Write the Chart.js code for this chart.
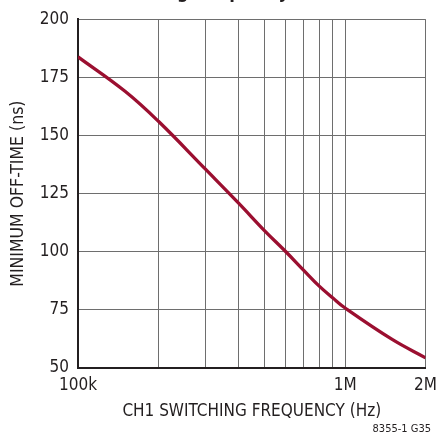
<!DOCTYPE html>
<html>
<head>
<meta charset="utf-8">
<script src="https://cdn.jsdelivr.net/npm/chart.js@4.4.0/dist/chart.umd.min.js"></script>
<style>
html,body{margin:0;padding:0;background:#fff;}
#wrap{width:444px;height:434px;position:relative;}
</style>
</head>
<body>
<div id="wrap"><canvas id="c" width="444" height="434"></canvas></div>
<script>
const frequencies = [100000, 150000, 200000, 300000, 400000, 500000, 600000, 700000, 800000, 900000, 1000000, 1500000, 2000000];
const offTimeNs = [183.8, 169, 156.1, 135.5, 120.8, 109, 100, 92, 85.2, 80.1, 75.8, 62.3, 54.4];
const xGridTicks = [100000, 200000, 300000, 400000, 500000, 600000, 700000, 800000, 900000, 1000000, 2000000];
const xTickLabels = {100000: '100k', 1000000: '1M', 2000000: '2M'};
const yTicks = [50, 75, 100, 125, 150, 175, 200];
const titleText = 'Minimum Off-Time vs Switching Frequency';
const noteText = '8355-1 G35';

const FONT = '"Liberation Sans Narrow","DejaVu Sans Condensed","Liberation Sans",Arial,sans-serif';

const extras = {
  id: 'extras',
  afterDraw(chart) {
    const ctx = chart.ctx;
    ctx.save();
    ctx.fillStyle = '#231f20';
    ctx.font = 'bold 18px ' + FONT;
    ctx.textAlign = 'right';
    ctx.textBaseline = 'alphabetic';
    ctx.fillText(titleText, 289, -2);
    ctx.font = '11px ' + FONT;
    ctx.textAlign = 'right';
    ctx.fillText(noteText, 431, 432);
    ctx.restore();
  }
};

new Chart(document.getElementById('c'), {
  type: 'line',
  data: {
    datasets: [{
      data: frequencies.map((f, i) => ({x: f, y: offTimeNs[i]})),
      borderColor: '#9b0f30',
      borderWidth: 3.3,
      pointRadius: 0,
      tension: 0.4,
      fill: false
    }]
  },
  options: {
    responsive: false,
    animation: false,
    devicePixelRatio: 1,
    layout: {padding: {left: 0, right: 14, top: 16, bottom: 12}},
    plugins: {legend: {display: false}, tooltip: {enabled: false}, title: {display: false}},
    scales: {
      x: {
        type: 'logarithmic',
        min: 100000,
        max: 2000000,
        afterBuildTicks(scale) { scale.ticks = xGridTicks.map(v => ({value: v})); },
        afterFit(scale) { scale.height = 54; },
        border: {display: true, color: '#231f20', width: 2},
        grid: {color: '#6e6e6e', lineWidth: 1, drawTicks: false},
        ticks: {
          autoSkip: false,
          maxRotation: 0,
          padding: 7,
          color: '#231f20',
          font: {family: FONT, size: 17},
          callback(v) { return xTickLabels[v] || ''; }
        },
        title: {
          display: true,
          text: 'CH1 SWITCHING FREQUENCY (Hz)',
          color: '#231f20',
          font: {family: FONT, size: 17},
          padding: {top: 2, bottom: 0}
        }
      },
      y: {
        type: 'linear',
        min: 50,
        max: 200,
        afterBuildTicks(scale) { scale.ticks = yTicks.map(v => ({value: v})); },
        afterFit(scale) { scale.width = 78; },
        border: {display: true, color: '#231f20', width: 2},
        grid: {color: '#6e6e6e', lineWidth: 1, drawTicks: false},
        ticks: {
          padding: 9,
          color: '#231f20',
          font: {family: FONT, size: 17}
        },
        title: {
          display: true,
          text: 'MINIMUM OFF-TIME (ns)',
          color: '#231f20',
          font: {family: FONT, size: 17.5},
          padding: {top: 8, bottom: 0}
        }
      }
    }
  },
  plugins: [extras]
});
</script>
</body>
</html>
